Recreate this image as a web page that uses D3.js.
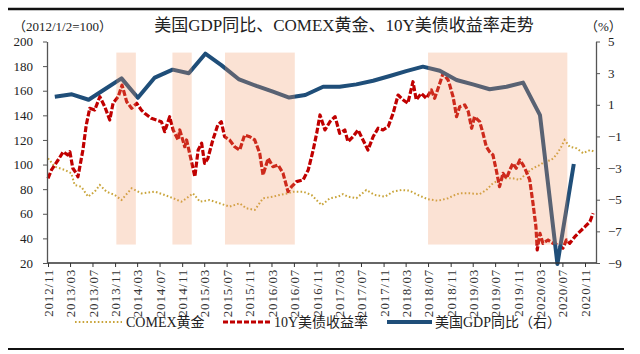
<!DOCTYPE html>
<html><head><meta charset="utf-8">
<script src="https://cdn.jsdelivr.net/npm/d3@7"></script>
<style>body{margin:0;background:#fff} svg{display:block}</style>
</head><body><svg id="c" width="640" height="354"></svg>
<script>
const titleText = "美国GDP同比、COMEX黄金、10Y美债收益率走势";
const leftUnit = "（2012/1/2=100）";
const rightUnit = "（%）";
const legendLabels = ["COMEX黄金", "10Y美债收益率", "美国GDP同比（右）"];
const xTickLabels = ["2012/11","2013/03","2013/07","2013/11","2014/03","2014/07","2014/11","2015/03","2015/07","2015/11","2016/03","2016/07","2016/11","2017/03","2017/07","2017/11","2018/03","2018/07","2018/11","2019/03","2019/07","2019/11","2020/03","2020/07","2020/11"];
const leftTicks = [20,40,60,80,100,120,140,160,180,200];
const rightTicks = [-9,-7,-5,-3,-1,1,3,5];
const shadeRanges = [["2013-11-08","2014-02-22"],["2014-09-09","2014-12-23"],["2015-06-22","2016-07-06"],["2018-07-01","2020-07-28"]];
const shadeSpan = [35, 191];

const gdp = [["2012-12-08",1.51],["2013-03-11",1.66],["2013-06-10",1.32],["2013-09-08",2.0],["2013-12-06",2.67],["2014-03-05",1.44],["2014-06-05",2.72],["2014-09-10",3.22],["2014-12-07",2.99],["2015-03-07",4.23],["2015-06-02",3.51],["2015-09-07",2.6],["2015-12-10",2.19],["2016-03-09",1.83],["2016-06-05",1.46],["2016-09-01",1.62],["2016-12-07",2.14],["2017-03-07",2.14],["2017-06-06",2.29],["2017-09-05",2.52],["2017-12-05",2.82],["2018-03-04",3.13],["2018-06-03",3.41],["2018-09-03",3.15],["2018-12-03",2.57],["2019-03-02",2.29],["2019-06-01",1.98],["2019-09-01",2.14],["2019-11-30",2.4],["2020-03-01",0.35],["2020-06-04",-9.06],["2020-09-01",-2.74]];

const gold = [["2012-11-01",105.1],["2012-12-08",98.3],["2013-02-01",95.6],["2013-03-08",92.9],["2013-03-26",83.4],["2013-05-01",82],["2013-06-07",73.9],["2013-07-13",78],["2013-08-10",83.4],["2013-09-15",78],["2013-10-30",75.3],["2013-12-06",71.2],["2014-01-30",80.7],["2014-03-24",76.6],["2014-06-05",78],["2014-07-29",75.3],["2014-09-13",72.6],["2014-10-28",69.8],["2014-11-25",72.6],["2014-12-30",76.6],["2015-02-06",69.8],["2015-03-30",71.2],["2015-05-24",68.5],["2015-07-17",65.8],["2015-09-10",68.5],["2015-10-16",64.5],["2015-12-01",63.1],["2016-01-15",72.6],["2016-03-09",73.9],["2016-04-15",75.3],["2016-05-30",76.6],["2016-06-26",78],["2016-08-20",78],["2016-10-05",75.3],["2016-11-10",69.8],["2016-11-29",67.1],["2017-01-13",72.6],["2017-02-28",73.9],["2017-03-25",76],["2017-04-21",73.9],["2017-06-06",72.6],["2017-07-30",79.3],["2017-09-14",75.3],["2017-11-08",73.9],["2017-12-23",78],["2018-02-07",79.3],["2018-03-22",78.8],["2018-05-07",75.3],["2018-06-30",71.8],["2018-08-24",70.6],["2018-10-18",72.6],["2018-11-24",75.3],["2018-12-20",76.6],["2019-02-14",76.6],["2019-04-08",76],["2019-05-14",79.3],["2019-06-19",84.8],["2019-07-25",87.5],["2019-09-01",88.8],["2019-10-06",88.8],["2019-11-12",87.5],["2019-12-18",92.9],["2020-01-23",97],["2020-03-01",99.7],["2020-03-26",102.3],["2020-05-02",103.7],["2020-05-29",107.8],["2020-06-25",114.5],["2020-07-13",120],["2020-08-10",114.5],["2020-09-16",113.2],["2020-10-22",109.2],["2020-11-28",111.8],["2020-12-24",110.4]];

const yield10 = [["2012-11-01",88.8],["2012-11-20",95.6],["2012-12-26",103.7],["2013-01-23",110.4],["2013-02-16",107.8],["2013-02-28",110.4],["2013-03-16",97],["2013-04-04",92.9],["2013-04-13",90.1],["2013-05-10",111.8],["2013-05-28",132],["2013-06-16",145.7],["2013-07-13",144.3],["2013-08-10",155.1],["2013-09-06",147],["2013-10-03",136.2],["2013-10-21",149.8],["2013-11-18",155.1],["2013-12-09",164.6],["2014-01-03",151.1],["2014-01-30",145.7],["2014-02-27",149.8],["2014-03-24",144.3],["2014-04-11",141.7],["2014-05-17",137.6],["2014-06-14",136.2],["2014-07-11",134.8],["2014-07-29",126.7],["2014-08-25",138.9],["2014-09-13",128.1],["2014-10-10",120],["2014-10-19",128.1],["2014-11-15",114.5],["2014-11-25",120],["2014-12-22",102.3],["2015-01-09",90.1],["2015-01-27",111.8],["2015-02-15",117.3],["2015-03-03",101],["2015-03-21",105.1],["2015-04-17",120],["2015-05-14",132.2],["2015-06-02",134.8],["2015-06-20",122.6],["2015-07-17",120],["2015-08-14",114.5],["2015-09-10",111.8],["2015-10-07",124],["2015-11-04",122.6],["2015-12-01",120],["2015-12-28",109.2],["2016-01-15",91.5],["2016-02-12",105.1],["2016-03-09",98.3],["2016-04-06",99.7],["2016-05-03",92.9],["2016-05-30",78],["2016-06-18",82],["2016-07-15",86.1],["2016-08-20",87.5],["2016-09-17",95.6],["2016-10-14",111.8],["2016-11-02",125.4],["2016-11-20",140.3],["2016-12-17",128.1],["2017-01-13",134.8],["2017-02-10",138.9],["2017-03-07",125.4],["2017-04-04",128.1],["2017-04-21",118.6],["2017-05-18",122.6],["2017-06-15",128.1],["2017-07-12",120],["2017-08-08",111.8],["2017-09-05",122.6],["2017-10-02",129.5],["2017-10-29",128.1],["2017-11-26",130.8],["2017-12-23",141.7],["2018-01-19",156.5],["2018-02-16",152.5],["2018-03-13",149.8],["2018-04-10",167.3],["2018-04-28",152.5],["2018-05-25",157.9],["2018-06-22",153.8],["2018-07-19",160.6],["2018-08-06",153.8],["2018-09-03",166],["2018-09-21",174.2],["2018-10-18",168.7],["2018-10-27",164.6],["2018-11-14",155.1],["2018-11-24",147],["2018-12-03",138.9],["2018-12-20",147],["2019-01-17",148.4],["2019-02-05",143],["2019-02-23",129.5],["2019-03-11",138.9],["2019-04-08",134.8],["2019-04-26",125.4],["2019-05-14",114.5],["2019-06-01",110.4],["2019-06-19",107.8],["2019-07-07",95.6],["2019-07-25",82],["2019-08-13",92.9],["2019-09-01",88.8],["2019-09-19",95.6],["2019-10-06",101],["2019-10-24",97],["2019-11-12",103.7],["2019-11-30",99.7],["2019-12-18",94.2],["2020-01-05",87.5],["2020-01-23",68.5],["2020-02-08",49.5],["2020-02-15",30.6],["2020-03-01",44.1],["2020-03-17",36],["2020-04-14",38.7],["2020-05-11",36],["2020-06-07",34.6],["2020-07-04",32],["2020-07-23",38.7],["2020-08-10",36],["2020-09-07",41.4],["2020-10-04",45.5],["2020-11-01",49.5],["2020-11-28",53.6],["2020-12-15",60.4]];

const pd = d3.timeParse("%Y-%m-%d");
const pm = d3.timeParse("%Y/%m");
const serif = "'Liberation Serif','Noto Sans CJK SC',serif";
const cGold = "#c9a43a", cRed = "#c00000", cBlue = "#1f4e79";

const svg = d3.select("#c");
const L = 47, R = 596, T = 41.5, B = 263;
const x = d3.scaleTime().domain([pm("2012/11"), pm("2020/11")]).range([48, 585]);
const yL = d3.scaleLinear().domain([20, 200]).range([B, T]);
const yR = d3.scaleLinear().domain([-9, 5]).range([B, T]);

// rules
svg.append("line").attr("x1", 8).attr("x2", 624).attr("y1", 9).attr("y2", 9).attr("stroke", "#111").attr("stroke-width", 2.5);
svg.append("line").attr("x1", 8).attr("x2", 624).attr("y1", 349).attr("y2", 349).attr("stroke", "#111").attr("stroke-width", 2);

// titles
svg.append("text").attr("x", 344).attr("y", 31).attr("text-anchor", "middle").attr("font-family", serif).attr("font-size", 17).attr("fill", "#222").text(titleText);
svg.append("text").attr("x", 13).attr("y", 31).attr("font-family", serif).attr("font-size", 13).attr("fill", "#222").text(leftUnit);
svg.append("text").attr("x", 585).attr("y", 31).attr("font-family", serif).attr("font-size", 13).attr("fill", "#222").text(rightUnit);

// lines
const lineG = d3.line().x(d => x(pd(d[0]))).y(d => yL(d[1]));
const lineR = d3.line().x(d => x(pd(d[0]))).y(d => yR(d[1]));
svg.append("path").datum(gold).attr("d", lineG).attr("fill", "none").attr("stroke", cGold).attr("stroke-width", 2).attr("stroke-dasharray", "1.6,2.2");
svg.append("path").datum(yield10).attr("d", lineG).attr("fill", "none").attr("stroke", cRed).attr("stroke-width", 3.2).attr("stroke-dasharray", "6,2").attr("stroke-linejoin", "round");
svg.append("path").datum(gdp).attr("d", lineR).attr("fill", "none").attr("stroke", cBlue).attr("stroke-width", 4).attr("stroke-linejoin", "round");

// shading (on top, translucent)
svg.append("g").selectAll("rect").data(shadeRanges).join("rect")
  .attr("x", d => x(pd(d[0]))).attr("width", d => x(pd(d[1])) - x(pd(d[0])))
  .attr("y", yL(shadeSpan[1])).attr("height", yL(shadeSpan[0]) - yL(shadeSpan[1]))
  .attr("fill", "rgb(240,150,100)").attr("fill-opacity", 0.28);

// axes
const axisColor = "#555";
const gx = svg.append("g").attr("transform", `translate(0,${B})`)
  .call(d3.axisBottom(x).tickValues(xTickLabels.map(pm)).tickFormat(d3.timeFormat("%Y/%m")).tickSize(4).tickSizeOuter(0));
gx.select(".domain").remove();
gx.append("line").attr("x1", L).attr("x2", R).attr("stroke", "#333").attr("stroke-width", 1.3);
gx.selectAll(".tick line").attr("stroke", "#333");
gx.selectAll(".tick text").attr("transform", "rotate(-90)").attr("text-anchor", "end")
  .attr("x", -6).attr("y", 0).attr("dy", "0.35em")
  .attr("font-family", serif).attr("font-size", 13).attr("letter-spacing", 0.8).attr("fill", "#333");

const gl = svg.append("g").attr("transform", `translate(${L},0)`)
  .call(d3.axisLeft(yL).tickValues(leftTicks).tickSize(4).tickPadding(10).tickSizeOuter(0));
gl.select(".domain").attr("stroke", axisColor).attr("stroke-width", 1.3);
gl.selectAll(".tick line").attr("stroke", axisColor);
gl.selectAll(".tick text").attr("font-family", serif).attr("font-size", 13).attr("fill", "#222");

const gr = svg.append("g").attr("transform", `translate(${R},0)`)
  .call(d3.axisRight(yR).tickValues(rightTicks).tickSize(4).tickPadding(8).tickSizeOuter(0));
gr.select(".domain").attr("stroke", axisColor).attr("stroke-width", 1.3);
gr.selectAll(".tick line").attr("stroke", axisColor);
gr.selectAll(".tick text").attr("font-family", serif).attr("font-size", 13).attr("fill", "#222");

// legend
const ly = 322;
const legend = [
  {x1: 75, x2: 122, tx: 126, stroke: cGold, w: 2, dash: "1.6,2.2"},
  {x1: 223, x2: 270, tx: 274, stroke: cRed, w: 3, dash: "5,2"},
  {x1: 387, x2: 432, tx: 435, stroke: cBlue, w: 4, dash: null}
];
const lg = svg.append("g");
legend.forEach((d, i) => {
  lg.append("line").attr("x1", d.x1).attr("x2", d.x2).attr("y1", ly).attr("y2", ly)
    .attr("stroke", d.stroke).attr("stroke-width", d.w).attr("stroke-dasharray", d.dash);
  lg.append("text").attr("x", d.tx).attr("y", ly).attr("dy", "0.36em")
    .attr("font-family", serif).attr("font-size", 14).attr("fill", "#222").text(legendLabels[i]);
});
</script></body></html>
